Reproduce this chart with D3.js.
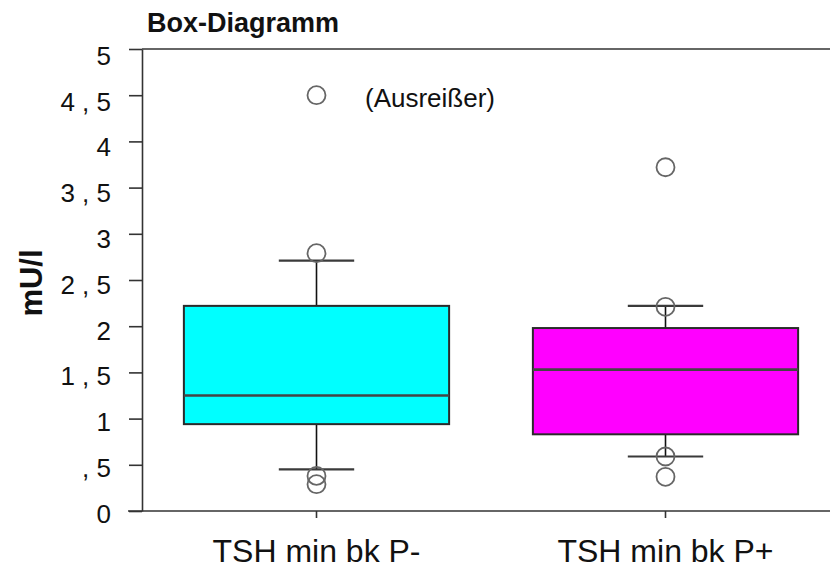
<!DOCTYPE html>
<html>
<head>
<meta charset="utf-8">
<script src="https://cdn.jsdelivr.net/npm/d3@7"></script>
<style>
  html, body { margin: 0; padding: 0; background: #fff; }
  svg { display: block; font-family: "Liberation Sans", Arial, sans-serif; }
</style>
</head>
<body>
<svg id="chart" width="830" height="568"></svg>
<script>
// Groups and their five-number summaries (mU/l)
const categories = ["TSH min bk P-", "TSH min bk P+"];
const whiskerLow = [0.45, 0.59];
const q1 = [0.94, 0.83];
const median = [1.25, 1.53];
const q3 = [2.22, 1.98];
const whiskerHigh = [2.71, 2.22];
// Individual points plotted as circles
const outliers = [
  [4.50, 2.79, 0.38, 0.29],
  [3.72, 2.21, 0.59, 0.37]
];
const yTicks = [0, 0.5, 1, 1.5, 2, 2.5, 3, 3.5, 4, 4.5, 5];
const fills = ["#00ffff", "#ff00ff"];
const titleText = "Box-Diagramm";
const yTitle = "mU/l";
const noteText = "(Ausreißer)";

const svg = d3.select("#chart");
const W = 830;
const plot = { left: 142, right: 840, top: 49, bottom: 511 };

const x = d3.scaleBand().domain(categories).range([plot.left, plot.right]).padding(0);
const y = d3.scaleLinear().domain([0, 5]).range([plot.bottom, plot.top]);
// Tick labels sit slightly below their tick marks
const yLabel = d3.scaleLinear().domain([0, 5]).range([513, 55]);

// German-style decimal labels: "2 , 5", ", 5"
const fmt = v => {
  if (Number.isInteger(v)) return String(v);
  const [i, f] = String(v).split(".");
  return (i === "0" ? "" : i + " ") + ", " + f;
};

// Y axis
const yAxis = svg.append("g")
  .attr("transform", `translate(${plot.left},0)`)
  .call(d3.axisLeft(y).tickValues(yTicks).tickFormat(fmt).tickSize(13).tickSizeOuter(0));
yAxis.select(".domain").attr("stroke", "#333").attr("stroke-width", 1.6);
yAxis.selectAll(".tick line").attr("stroke", "#333").attr("stroke-width", 1.6);
yAxis.selectAll(".tick text")
  .attr("fill", "#111")
  .attr("font-size", 26)
  .attr("x", -31)
  .attr("dy", "0.36em")
  .attr("y", d => yLabel(d) - y(d));

// Top frame line
svg.append("line")
  .attr("x1", plot.left).attr("x2", W)
  .attr("y1", y(5)).attr("y2", y(5))
  .attr("stroke", "#333").attr("stroke-width", 1.6);

// X axis
const xAxis = svg.append("g")
  .attr("transform", `translate(0,${plot.bottom})`)
  .call(d3.axisBottom(x).tickSize(7).tickSizeOuter(0));
xAxis.select(".domain").remove();
xAxis.selectAll(".tick line").attr("stroke", "#333").attr("stroke-width", 1.6);
xAxis.selectAll(".tick text")
  .attr("fill", "#111")
  .attr("font-size", 32)
  .attr("dy", 0)
  .attr("y", 51);
svg.append("line")
  .attr("x1", 128).attr("x2", W)
  .attr("y1", plot.bottom).attr("y2", plot.bottom)
  .attr("stroke", "#333").attr("stroke-width", 1.6);

// Boxes
const boxW = x.bandwidth() * 0.76;
const capW = x.bandwidth() * 0.216;
const groups = svg.selectAll("g.box")
  .data(categories.map((c, i) => ({ c, i })))
  .join("g").attr("class", "box");

groups.each(function ({ c, i }) {
  const g = d3.select(this);
  const cx = x(c) + x.bandwidth() / 2;
  // whisker stems
  g.append("line")
    .attr("x1", cx).attr("x2", cx)
    .attr("y1", y(whiskerHigh[i])).attr("y2", y(q3[i]))
    .attr("stroke", "#111").attr("stroke-width", 1.6);
  g.append("line")
    .attr("x1", cx).attr("x2", cx)
    .attr("y1", y(q1[i])).attr("y2", y(whiskerLow[i]))
    .attr("stroke", "#111").attr("stroke-width", 1.6);
  // whisker caps
  [whiskerHigh[i], whiskerLow[i]].forEach(v => {
    g.append("line")
      .attr("x1", cx - capW / 2).attr("x2", cx + capW / 2)
      .attr("y1", y(v)).attr("y2", y(v))
      .attr("stroke", "#3a3a3a").attr("stroke-width", 2.2);
  });
  // box
  g.append("rect")
    .attr("x", cx - boxW / 2).attr("width", boxW)
    .attr("y", y(q3[i])).attr("height", y(q1[i]) - y(q3[i]))
    .attr("fill", fills[i])
    .attr("stroke", "#2a2a2a").attr("stroke-width", 2);
  // median
  g.append("line")
    .attr("x1", cx - boxW / 2).attr("x2", cx + boxW / 2)
    .attr("y1", y(median[i])).attr("y2", y(median[i]))
    .attr("stroke", "#444").attr("stroke-width", 2.6);
  // outlier circles
  g.selectAll("circle")
    .data(outliers[i])
    .join("circle")
    .attr("cx", cx).attr("cy", d => y(d))
    .attr("r", 9)
    .attr("fill", "none")
    .attr("stroke", "#666").attr("stroke-width", 1.8);
});

// Annotation next to the extreme value
svg.append("text")
  .attr("x", 365).attr("y", 107)
  .attr("font-size", 26)
  .attr("fill", "#111")
  .text(noteText);

// Title
svg.append("text")
  .attr("x", 147).attr("y", 32)
  .attr("font-size", 27)
  .attr("font-weight", "bold")
  .attr("fill", "#111")
  .text(titleText);

// Y axis title
svg.append("text")
  .attr("transform", "translate(42,283) rotate(-90)")
  .attr("text-anchor", "middle")
  .attr("font-size", 31)
  .attr("font-weight", "bold")
  .attr("fill", "#111")
  .text(yTitle);
</script>
</body>
</html>
